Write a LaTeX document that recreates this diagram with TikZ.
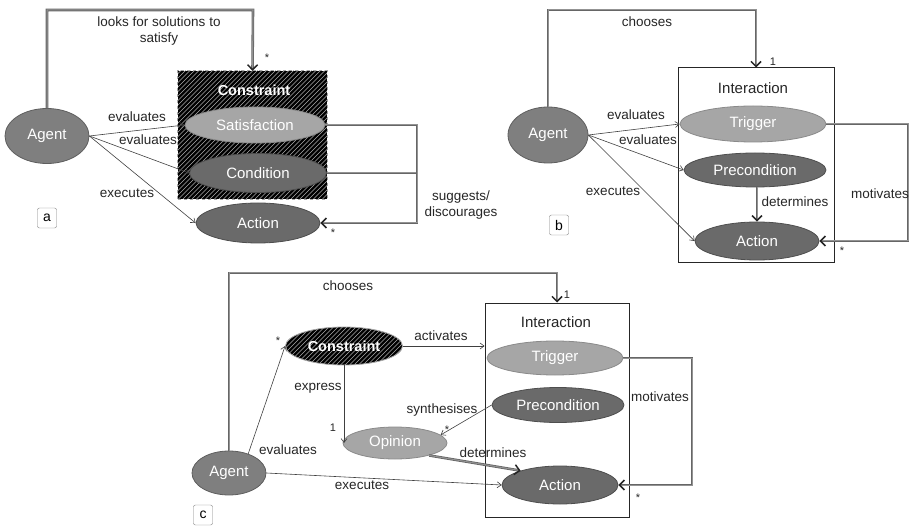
\documentclass[tikz,border=0pt]{standalone}
\usepackage{fontspec}
\setmainfont{Liberation Sans}
\usetikzlibrary{shapes.geometric,arrows.meta,calc}
\definecolor{agentc}{HTML}{7F7F7F}
\definecolor{agentb}{HTML}{5E5E5E}
\definecolor{lightc}{HTML}{A6A6A6}
\definecolor{lightb}{HTML}{8A8A8A}
\definecolor{darkc}{HTML}{6A6A6A}
\definecolor{darkb}{HTML}{4E4E4E}
\begin{document}
\begin{tikzpicture}[x=1pt,y=-1pt,
  ell/.style={ellipse, inner sep=0pt, text=white, font=\fontsize{15}{17}\selectfont},
  agent/.style={ell, fill=agentc, draw=agentb, line width=0.8pt},
  light/.style={ell, fill=lightc, draw=lightb, line width=0.8pt},
  dark/.style={ell, fill=darkc, draw=darkb, line width=0.8pt},
  hatchline/.style={draw=gray!65, line width=0.6pt},
  lbl/.style={font=\fontsize{13.5}{15.5}\selectfont, text=black!85, inner sep=0pt, align=center},
  mult/.style={font=\fontsize{11}{12}\selectfont, text=black!85, inner sep=0pt},
  thin/.style={draw=black!75, line width=0.6pt, -{Straight Barb[length=4pt,width=6pt]}},
  gline/.style={draw=black!60, double=gray!85, double distance=1pt, line width=0.8pt},
  garrow/.style={gline, -{Straight Barb[length=5pt,width=10pt,line width=1.5pt,color=black!85]}},
  tag/.style={draw=gray, rounded corners=2pt, minimum width=19pt, minimum height=20pt, inner sep=0pt, font=\fontsize{14}{16}\selectfont},
  ibox/.style={draw=black!85, line width=1pt, inner sep=0pt},
]
\useasboundingbox (0,0) rectangle (909,526);

% ---------------- panel a ----------------
\node[rectangle, fill=black, inner sep=0pt,
      minimum width=149pt, minimum height=128pt] (aBox) at (252.5,135) {};
\begin{scope}
  \clip (aBox.south west) rectangle (aBox.north east);
  \foreach \i in {0,4.5,...,300} {
    \draw[hatchline] (178+\i-130,199) -- (178+\i,69);
  }
\end{scope}
\draw[draw=gray!70, dashed, line width=0.8pt] (aBox.south west) rectangle (aBox.north east);
\node[text=white, font=\bfseries\fontsize{14.5}{17}\selectfont] (aTitle) at (254,90) {Constraint};
\node[agent, minimum width=84pt, minimum height=55pt] (aAgent) at (47,136) {Agent};
\node[light, minimum width=140pt, minimum height=36pt] (aSat) at (255,125) {Satisfaction};
\node[dark, minimum width=137pt, minimum height=39pt] (aCond) at (258,173) {Condition};
\node[dark, minimum width=124pt, minimum height=40pt] (aAct) at (258,223) {Action};
\node[tag] (aTag) at (47,218) {a};

\coordinate (aTop) at (253,10);
\draw[garrow] (aAgent.north) |- (aTop) -- (aBox.north);
\node[lbl] (aL1) at (159,31) {looks for solutions to\\satisfy};
\node[mult] (aM1) at (267,58) {*};

\draw[thin] (aAgent.east) -- (aSat.west);
\draw[thin] (aAgent.east) -- (aCond.west);
\draw[thin] (aAgent.east) -- (aAct.west);
\node[lbl] (aL2) at (137,117) {evaluates};
\node[lbl] (aL3) at (148,140) {evaluates};
\node[lbl] (aL4) at (127,193) {executes};

\coordinate (aR) at (417,0);
\draw[gline] (aCond.east) -- (aCond.east -| aR);
\draw[garrow] (aSat.east) -- (aSat.east -| aR) |- (aAct.east);
\node[lbl] (aL5) at (461,205) {suggests/\\discourages};
\node[mult] (aM2) at (333,233) {*};

% ---------------- panel b ----------------
\node[ibox, minimum width=156pt, minimum height=195pt] (bBox) at (756,165.5) {};
\node[font=\fontsize{15}{17}\selectfont, text=black!85] (bTitle) at (753,88) {Interaction};
\node[agent, minimum width=80pt, minimum height=56pt] (bAgent) at (548,135) {Agent};
\node[light, minimum width=146pt, minimum height=36pt] (bTrig) at (753,124) {Trigger};
\node[dark, minimum width=142pt, minimum height=34pt] (bPre) at (755,170) {Precondition};
\node[dark, minimum width=124pt, minimum height=38pt] (bAct) at (757,241) {Action};
\node[tag] (bTag) at (559,225) {b};

\coordinate (bTop) at (756,10);
\draw[garrow] (bAgent.north) |- (bTop) -- (bBox.north);
\node[lbl] (bL1) at (647,22) {chooses};
\node[mult] (bM1) at (773,62) {1};

\draw[thin] (bAgent.east) -- (bTrig.west);
\draw[thin] (bAgent.east) -- (bPre.west);
\draw[thin] (bAgent.east) -- (bAct.west);
\node[lbl] (bL2) at (636,115) {evaluates};
\node[lbl] (bL3) at (648,140) {evaluates};
\node[lbl] (bL4) at (613,191) {executes};

\draw[garrow] (bPre.south -| bAct.north) -- (bAct.north);
\node[lbl] (bL5) at (795,202) {determines};

\coordinate (bR) at (908,0);
\draw[garrow] (bTrig.east) -- (bTrig.east -| bR) |- (bAct.east);
\node[lbl] (bL6) at (880,194) {motivates};
\node[mult] (bM2) at (842,251) {*};

% ---------------- panel c ----------------
\node[ibox, minimum width=144pt, minimum height=214pt] (cBox) at (557,410) {};
\node[font=\fontsize{15}{17}\selectfont, text=black!85] (cTitle) at (556,322) {Interaction};
\node[agent, minimum width=74pt, minimum height=44pt] (cAgent) at (229,473) {Agent};
\node[ell, fill=black, minimum width=117pt, minimum height=38pt] (cConBg) at (344,346) {};
\begin{scope}
  \clip (344,346) ellipse (58.5 and 19);
  \foreach \i in {0,4.5,...,170} {
    \draw[hatchline] (285+\i-40,366) -- (285+\i,326);
  }
\end{scope}
\node[ell, draw=gray!70, line width=0.8pt, font=\bfseries\fontsize{14.5}{17}\selectfont,
      minimum width=117pt, minimum height=38pt] (cCon) at (344,346) {Constraint};
\node[light, minimum width=136pt, minimum height=34pt] (cTrig) at (555,358) {Trigger};
\node[dark, minimum width=132pt, minimum height=35pt] (cPre) at (558,405) {Precondition};
\node[light, minimum width=104pt, minimum height=32pt] (cOp) at (395,443) {Opinion};
\node[dark, minimum width=116pt, minimum height=38pt] (cAct) at (560,485) {Action};
\node[tag] (cTag) at (203,515) {c};

\coordinate (cTop) at (557,273);
\draw[garrow] (cAgent.north) |- (cTop) -- (cBox.north);
\node[lbl] (cL1) at (348,286) {chooses};
\node[mult] (cM1) at (567,295) {1};

\draw[thin] (cCon.east) -- (cCon.east -| cBox.west);
\node[lbl] (cL2) at (441,336) {activates};

\draw[thin] (cCon.south) -- (cCon.south |- cOp.west);
\node[lbl] (cL3) at (318,388) {express};
\node[mult] (cM2) at (333,428) {1};

\draw[thin] (cPre.west) -- (cOp.10);
\node[lbl] (cL4) at (442,410) {synthesises};
\node[mult] (cM3) at (447,430) {*};

\draw[garrow] (cOp.-20) -- (cAct.160);
\node[lbl] (cL5) at (493,453) {determines};

\draw[thin] (cAgent.45) -- (cCon.west);
\node[mult] (cM4) at (278,341) {*};
\node[lbl] (cL6) at (288,450) {evaluates};

\draw[thin] (cAgent.east) -- (cAct.west);
\node[lbl] (cL7) at (362,485) {executes};

\coordinate (cR) at (692,0);
\draw[garrow] (cTrig.east) -- (cTrig.east -| cR) |- (cAct.east);
\node[lbl] (cL8) at (660,397) {motivates};
\node[mult] (cM5) at (638,498) {*};
\end{tikzpicture}
\end{document}
